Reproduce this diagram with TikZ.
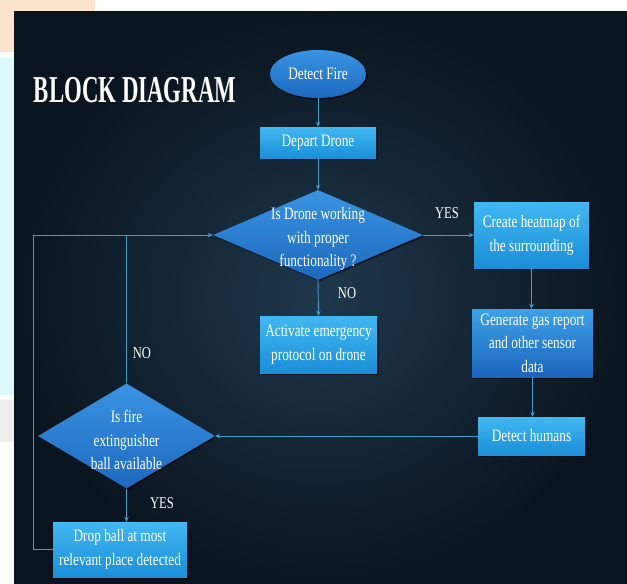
\documentclass[tikz,border=0pt]{standalone}
\usepackage{fontspec}
\setmainfont{Liberation Serif}[FakeStretch=0.76]
\newfontfamily\titlefont{Liberation Serif}[FakeStretch=0.6]
\usetikzlibrary{shapes.geometric,arrows.meta,shadows}
\definecolor{bgdark}{HTML}{0A141E}
\definecolor{bgmid}{HTML}{1F384D}
\definecolor{boxtop}{HTML}{41B8F2}
\definecolor{boxbot}{HTML}{1A8ED8}
\definecolor{diatop}{HTML}{3A93E2}
\definecolor{diabot}{HTML}{1C69BE}
\definecolor{gastop}{HTML}{3EA2E8}
\definecolor{gasbot}{HTML}{1B64BC}
\definecolor{linec}{HTML}{3C9ECC}
\definecolor{wmcyan}{HTML}{DDF9FC}
\definecolor{wmorange}{HTML}{FDE4CC}
\definecolor{wmgrey}{HTML}{EEEEEE}
\newcommand\mybody{\fontsize{17.5}{23.5}\selectfont}
\newcommand\mylbl{\fontsize{16.5}{18}\selectfont}
\begin{document}
\begin{tikzpicture}[x=1pt,y=-1pt,
  shad/.style={drop shadow={shadow xshift=1.5pt,shadow yshift=-1.5pt,opacity=0.55,fill=black}},
  boxn/.style={rectangle,shad,top color=boxtop,bottom color=boxbot,draw=none,inner sep=0pt,text=white,align=center,font=\mybody},
  gasn/.style={boxn,top color=gastop,bottom color=gasbot},
  elln/.style={ellipse,shad,top color=diatop,bottom color=diabot,draw=none,inner sep=0pt,text=white,font=\mybody},
  dian/.style={diamond,shad,top color=diatop,bottom color=diabot,draw=none,inner sep=0pt},
  txtn/.style={text=white,align=center,font=\mybody,inner sep=0pt},
  lbln/.style={text=white,font=\mylbl,inner sep=0pt},
  titlen/.style={text=white,font={\titlefont\bfseries\fontsize{38}{40}\selectfont},inner sep=0pt},
  ln/.style={draw=linec,line width=0.9pt},
  arr/.style={ln,-{Stealth[length=5pt,width=4.5pt]}}]
\useasboundingbox (0,0) rectangle (627,584);
\fill[white] (0,0) rectangle (627,584);
% faint watermark on the white margin
\fill[wmorange] (0,0) rectangle (14,52);
\fill[wmorange] (14,0) rectangle (95,11);
\fill[wmcyan] (0,58) rectangle (14,395);
\fill[wmgrey] (0,400) rectangle (14,442);
% dark panel
\fill[bgdark] (14,11) rectangle (627,584);
\shade[inner color=bgmid,outer color=bgdark] (14,11) rectangle (627,584);

\node[titlen] (title) at (135,90.5) {BLOCK DIAGRAM};

\node[elln,minimum width=96pt,minimum height=48pt] (fire) at (318,74) {Detect Fire};
\node[boxn,minimum width=116pt,minimum height=31pt] (depart) at (318,142.5) {Depart Drone};
\node[dian,minimum width=210pt,minimum height=90pt] (d1) at (318,235) {};
\node[txtn] (d1t) at (318,239) {Is Drone working\\with proper\\functionality ?};
\node[boxn,minimum width=115pt,minimum height=66pt] (heat) at (531.5,235) {Create heatmap of\\the surrounding};
\node[gasn,minimum width=121pt,minimum height=68pt] (gas) at (532.5,343) {Generate gas report\\and other sensor\\data};
\node[boxn,minimum width=107pt,minimum height=38pt] (hum) at (531.5,436) {Detect humans};
\node[boxn,minimum width=117pt,minimum height=57pt] (act) at (318.5,344.5) {Activate emergency\\protocol on drone};
\node[dian,minimum width=177pt,minimum height=105pt] (d2) at (126.5,436) {};
\node[txtn] (d2t) at (126.5,440) {Is fire\\extinguisher\\ball available};
\node[boxn,minimum width=134pt,minimum height=55pt] (drop) at (120,549.5) {Drop ball at most\\relevant place detected};

\node[lbln] (yes1) at (447,213) {YES};
\node[lbln] (no1) at (347,293) {NO};
\node[lbln] (no2) at (142,353) {NO};
\node[lbln] (yes2) at (162,503) {YES};

\coordinate (lx) at (33,550);
\draw[arr] (fire) -- (depart);
\draw[arr] (depart) -- (d1);
\draw[arr] (d1.east) -- (heat.west);
\draw[arr] (d1.south) -- (act.north);
\draw[arr] (heat.south) -- (heat.south |- gas.north);
\draw[arr] (gas.south) -- (gas.south |- hum.north);
\draw[arr] (hum.west) -- (hum.west -| d2.east);
\draw[arr] (d2.south) -- (d2.south |- drop.north);
\draw[ln] (d2.north) -- (d2.north |- d1.west);
\draw[arr] (drop.west) -- (drop.west -| lx) |- (d1.west);
\end{tikzpicture}
\end{document}
